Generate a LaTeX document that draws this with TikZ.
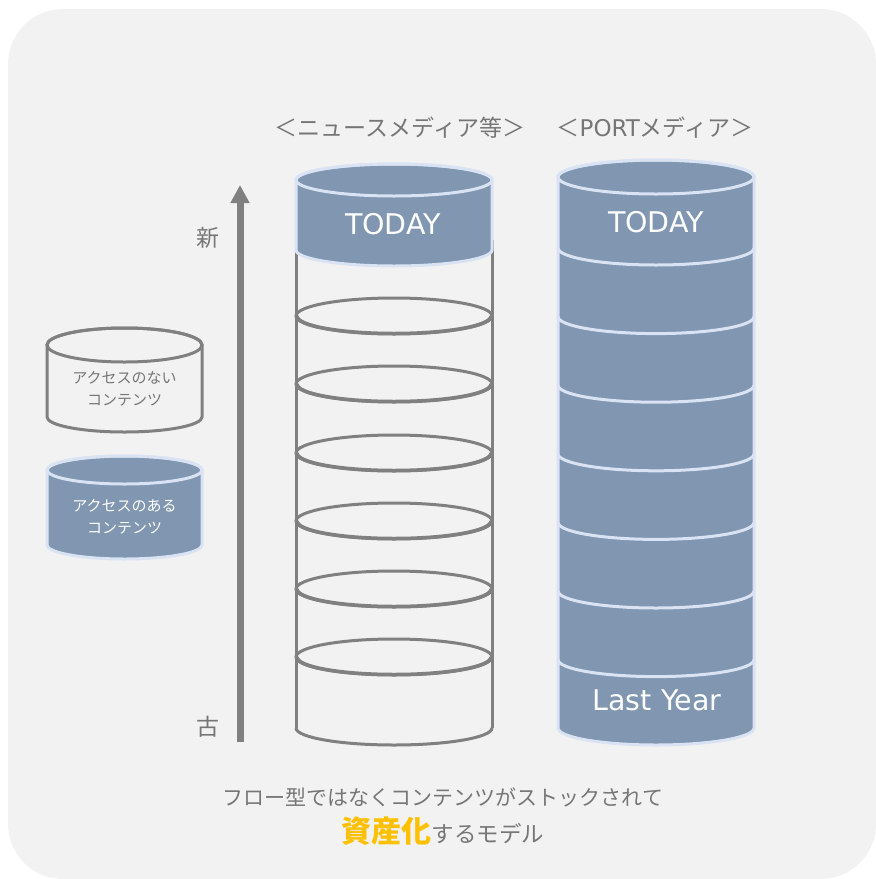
\documentclass[tikz,border=0pt]{standalone}
\usepackage{fontspec}
\setmainfont{Noto Sans CJK JP}
\newfontfamily\lat{DejaVu Sans}
\usetikzlibrary{arrows.meta}
\definecolor{bgc}{HTML}{F2F2F2}
\definecolor{slate}{HTML}{8096B1}
\definecolor{edge}{HTML}{DAE3F3}
\definecolor{gline}{HTML}{808080}
\definecolor{gtext}{HTML}{767676}
\definecolor{gold}{HTML}{FFC000}
\tikzset{
  bluebody/.style={fill=slate, draw=edge, line width=3pt, line join=round},
  blueline/.style={draw=edge, line width=3pt},
  grayline/.style={draw=gline, line width=3pt},
  ringline/.style={draw=gline, line width=3.5pt},
  title/.style={text=gtext, font=\fontsize{23}{26}\selectfont, inner sep=0pt},
  today/.style={text=white, font=\lat\fontsize{28.5}{32}\selectfont, inner sep=0pt},
  legend/.style={font=\fontsize{15}{21.5}\selectfont, align=center, inner sep=0pt},
  agelabel/.style={text=gtext, font=\fontsize{23}{26}\selectfont, inner sep=0pt},
  bottom/.style={text=gtext, font=\fontsize{21}{25}\selectfont, inner sep=0pt}
}
\newcommand\bluecyl[5]{%
  \filldraw[bluebody] ({#1-#4},#2) -- ({#1-#4},#3)
    arc[start angle=180,end angle=360,x radius=#4pt,y radius=#5pt]
    -- ({#1+#4},#2)
    arc[start angle=0,end angle=180,x radius=#4pt,y radius=#5pt] -- cycle;
  \draw[blueline] (#1,#2) ellipse[x radius=#4pt,y radius=#5pt];}
\newcommand\botarc[5]{% style, cx, y, rx, ry
  \draw[#1] ({#2-#4},#3) arc[start angle=180,end angle=360,x radius=#4pt,y radius=#5pt];}
\begin{document}
\begin{tikzpicture}[x=1pt,y=-1pt]
\useasboundingbox (0,0) rectangle (876,879);
\fill[bgc, rounded corners=55pt] (8,9) rectangle (876,879);

% titles
\node[title] (t1) at (400,128) {＜ニュースメディア等＞};
\node[title] (t2) at (655,128) {＜{\lat\fontsize{23}{26}\selectfont PORT}メディア＞};

% arrow
\coordinate (a0) at (240,742);
\coordinate (a1) at (240,185);
\draw[gline, line width=7pt, -{Triangle[length=18pt,width=18pt]}] (a0) -- (a1);
\node[agelabel] (new) at (208,238) {新};
\node[agelabel] (old) at (208,727) {古};

% legend
\draw[grayline, fill=bgc] (47,345) -- (47,417)
  arc[start angle=180,end angle=360,x radius=77.5pt,y radius=15pt]
  -- (202,345) arc[start angle=0,end angle=180,x radius=77.5pt,y radius=17pt] -- cycle;
\draw[grayline] (124.5,345) ellipse[x radius=77.5pt,y radius=17pt];
\node[legend, text=gtext] (l1) at (124.5,389) {アクセスのない\\コンテンツ};
\bluecyl{124.5}{470}{545}{77.5}{14}
\node[legend, text=white] (l2) at (124.5,517) {アクセスのある\\コンテンツ};

% left cylinder (news media)
\draw[grayline] (296,240) -- (296,728);
\draw[grayline] (492,240) -- (492,728);
\botarc{grayline}{394}{728}{98}{17}
\foreach \yy in {316,384,453,521,589,657}{
  \draw[grayline, line width=3pt] (394,\yy) ellipse[x radius=98pt,y radius=18pt];
  \botarc{ringline}{394}{\yy}{97}{17.5}
}
\bluecyl{394}{180}{250}{98}{16}
\node[today] (td1) at (393,224) {TODAY};

% right cylinder (PORT media)
\bluecyl{656}{177}{728}{98}{17}
\foreach \yy in {248,316.6,385.2,453.8,522.4,591,659.6}{
  \botarc{blueline}{656}{\yy}{98}{17}
}
\node[today] (td2) at (656,222) {TODAY};
\node[today] (ly) at (657,700) {Last Year};

% bottom message
\node[bottom] (m1) at (443,797) {フロー型ではなくコンテンツがストックされて};
\node[bottom, anchor=base] (m2) at (443,842) {{\color{gold}\bfseries\fontsize{30}{32}\selectfont 資産化}{\fontsize{22.5}{25}\selectfont するモデル}};
\end{tikzpicture}
\end{document}
